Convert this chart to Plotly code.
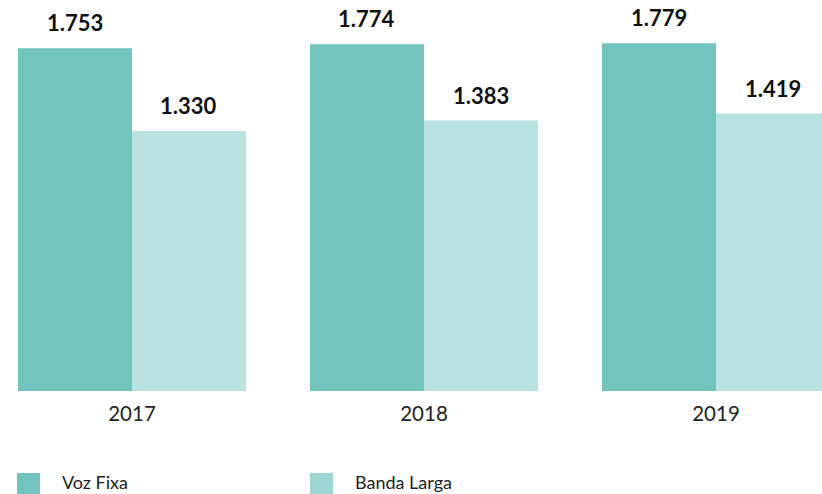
import plotly.graph_objects as go

# Data
years = ["2017", "2018", "2019"]
voz_fixa = [1753, 1774, 1779]
banda_larga = [1330, 1383, 1419]
series_names = ["Voz Fixa", "Banda Larga"]

c_voz = "#74C4BE"
c_banda = "#B9E2E0"
c_banda_legend = "#9DD6D2"
font_family = "Lato, 'Open Sans', sans-serif"

fig = go.Figure()
fig.add_trace(go.Bar(x=years, y=voz_fixa, name=series_names[0],
                     marker=dict(color=c_voz, line=dict(width=0))))
fig.add_trace(go.Bar(x=years, y=banda_larga, name=series_names[1],
                     marker=dict(color=c_banda, line=dict(width=0))))

# Value labels above each bar (x given as category index)
half = 57
for vals, shift in ((voz_fixa, -half), (banda_larga, half)):
    for i, v in enumerate(vals):
        fig.add_annotation(x=i, y=v, xref="x", yref="y",
                           text=f"{v:,d}".replace(",", "."),
                           showarrow=False, xshift=shift, yshift=10,
                           yanchor="bottom",
                           font=dict(family=font_family, size=22,
                                     color="#111111", weight="bold"))

# Custom legend along the bottom
legend_items = [(series_names[0], c_voz, 17), (series_names[1], c_banda_legend, 310)]
for name, col, x0 in legend_items:
    fig.add_shape(type="rect", xref="paper", yref="paper",
                  x0=x0 / 822, x1=(x0 + 23) / 822,
                  y0=-103 / 391, y1=-82 / 391,
                  fillcolor=col, line=dict(width=0))
    fig.add_annotation(xref="paper", yref="paper",
                       x=(x0 + 43) / 822, y=-91 / 391,
                       text=name, showarrow=False,
                       xanchor="left", yanchor="middle",
                       font=dict(family=font_family, size=18, color="#222222"))

fig.update_layout(
    width=822, height=494,
    margin=dict(l=0, r=0, t=0, b=103),
    paper_bgcolor="white", plot_bgcolor="white",
    barmode="group", bargap=0.219, bargroupgap=0,
    showlegend=False,
    separators=",.",
    xaxis=dict(type="category", range=[-0.452, 2.363], showline=False,
               showgrid=False, ticks="", ticklabelstandoff=8,
               tickfont=dict(family=font_family, size=20.5, color="#222222")),
    yaxis=dict(range=[0, 2000], visible=False, showgrid=False, zeroline=False),
)

fig.write_html("out.html")
